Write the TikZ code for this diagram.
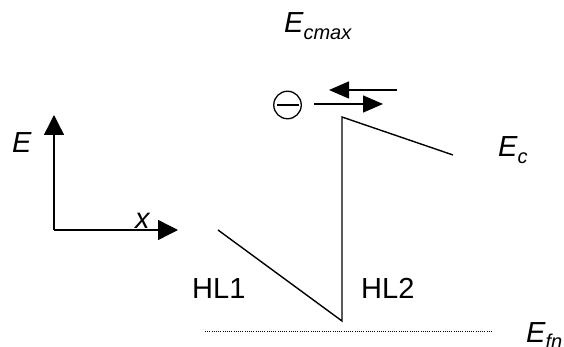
\documentclass[tikz,border=0pt]{standalone}
\usepackage{fontspec}
\setmainfont{Liberation Sans}
\usetikzlibrary{arrows.meta}
\tikzset{
  lbl/.style={inner sep=0pt, anchor=base west, font=\fontsize{29}{34}\selectfont},
  ln/.style={line width=1.4pt},
  axisarrow/.style={ln, -{Triangle[length=20pt,width=20pt]}},
  smallarrow/.style={ln, -{Triangle[length=20pt,width=17pt]}},
}
\newcommand{\subit}[1]{\raisebox{-0.22em}{\fontsize{20}{24}\selectfont\itshape #1}}
\begin{document}
\begin{tikzpicture}[x=1pt,y=-1pt]
\useasboundingbox (0,0) rectangle (564,347);
% axes
\coordinate (O) at (54,230);
\coordinate (Etop) at (54,115);
\coordinate (Xend) at (178,230);
\draw[axisarrow] (O) -- (Etop);
\draw[axisarrow] (O) -- (Xend);
\node[lbl] (Elab) at (12,153) {\itshape E};
\node[lbl] (xlab) at (135,229) {\itshape x};
% band profile
\coordinate (A) at (218,230);
\coordinate (B) at (342,321);
\coordinate (C) at (342,117);
\coordinate (D) at (453,155);
\draw[ln, line join=miter] (A) -- (B) -- (C) -- (D);
% fermi level
\coordinate (F1) at (205,331);
\coordinate (F2) at (493,331);
\draw[line width=0.9pt, dash pattern=on 1pt off 1.2pt] (F1) -- (F2);
% electron
\node[draw, circle, line width=1.3pt, minimum size=27.5pt, inner sep=0pt] (el) at (287.5,105) {};
\draw[line width=1.3pt] ([xshift=-11pt]el.center) -- ([xshift=11pt]el.center);
\coordinate (La) at (397,90);
\coordinate (Lb) at (329,90);
\coordinate (Ra) at (314,104);
\coordinate (Rb) at (383,104);
\draw[smallarrow] (La) -- (Lb);
\draw[smallarrow] (Ra) -- (Rb);
% labels
\node[lbl] (Ecmax) at (284,33) {\itshape E\subit{cmax}};
\node[lbl] (Ec) at (498,157) {\itshape E\subit{c}};
\node[lbl] (HL1) at (192,298) {HL1};
\node[lbl] (HL2) at (361,298) {HL2};
\node[lbl] (Efn) at (526,342) {\itshape E\subit{fn}};
\end{tikzpicture}
\end{document}
